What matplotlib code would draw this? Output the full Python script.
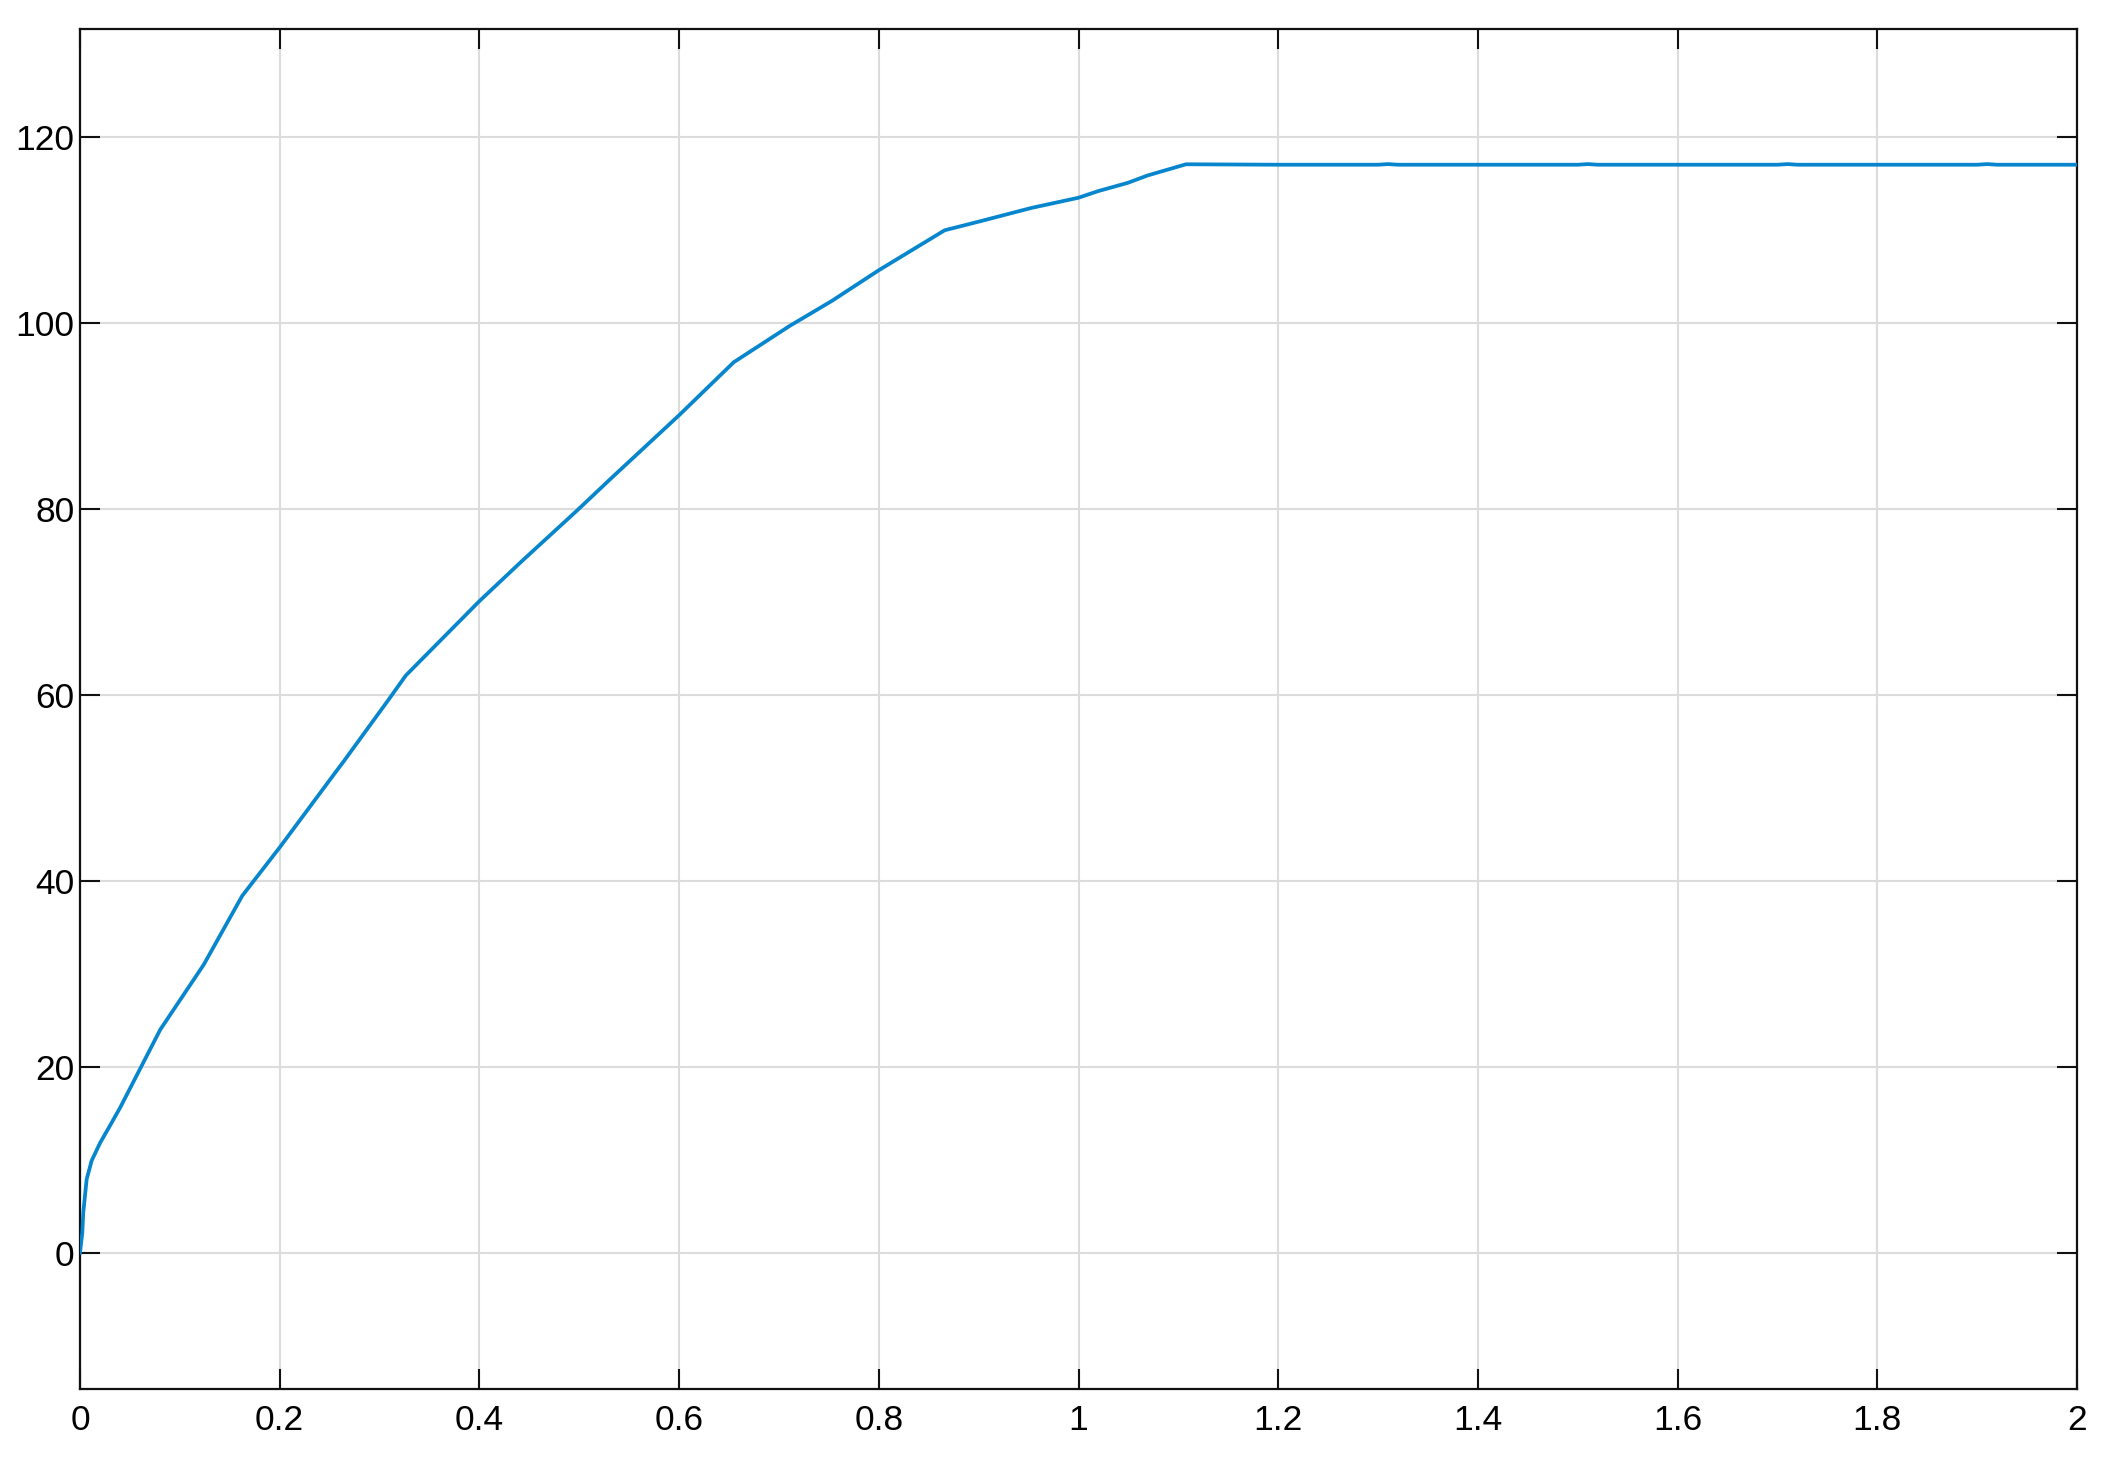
import matplotlib
matplotlib.use("Agg")
import matplotlib.pyplot as plt
import numpy as np

# values
time = [0.0, 0.0023, 0.0033, 0.005, 0.0067, 0.0117, 0.0201, 0.0302, 0.0402,
        0.0603, 0.0804, 0.124, 0.1625, 0.2, 0.2546, 0.2637,
        0.3084, 0.3263, 0.353, 0.4, 0.4425, 0.4983, 0.5318, 0.6, 0.6547,
        0.7106, 0.753, 0.8, 0.866, 0.9027, 0.9527, 1.0, 1.0193, 1.0493,
        1.0693, 1.1077, 1.2, 1.3, 1.31, 1.32, 1.5, 1.51, 1.52, 1.7, 1.71,
        1.72, 1.9, 1.91, 1.92, 2.0]
speed = [0.0, 2.1, 4.3, 6.1, 7.9, 9.9, 11.8, 13.7, 15.6,
         19.8, 24.0, 31.0, 38.4, 43.6, 51.5, 52.8,
         59.4, 62.1, 65.0, 70.1, 74.4, 79.9, 83.3, 90.1, 95.8,
         99.7, 102.4, 105.7, 110.0, 111.0, 112.4, 113.5, 114.2, 115.1,
         115.9, 117.1, 117.05, 117.05, 117.12, 117.05, 117.05, 117.12, 117.05,
         117.05, 117.12, 117.05, 117.05, 117.12, 117.05, 117.05]

x_ticks = [0, 0.2, 0.4, 0.6, 0.8, 1, 1.2, 1.4, 1.6, 1.8, 2]
x_labels = ["0", "0.2", "0.4", "0.6", "0.8", "1", "1.2", "1.4", "1.6", "1.8", "2"]
y_ticks = [0, 20, 40, 60, 80, 100, 120]

plt.rcParams['font.family'] = ['Liberation Sans', 'DejaVu Sans']

fig = plt.figure(figsize=(21.1, 14.65), dpi=100)
ax = fig.add_axes([0.0379, 0.0519, 0.9465, 0.9281])

ax.plot(time, speed, color='#0786CD', linewidth=2.7, zorder=3)

ax.set_xlim(0, 2)
ax.set_ylim(-14.66, 131.62)
ax.set_xticks(x_ticks)
ax.set_xticklabels(x_labels)
ax.set_yticks(y_ticks)

ax.grid(True, color='#dcdcdc', linewidth=1.5)
ax.set_axisbelow(True)
for side in ax.spines.values():
    side.set_linewidth(1.6)
    side.set_color('#111111')

ax.tick_params(axis='both', direction='in', length=14.5, width=1.5,
               top=True, right=True, labelsize=25.5, color='#111111')
ax.tick_params(axis='x', pad=11)
ax.tick_params(axis='y', pad=4)

fig.savefig("out.png", dpi=100)
